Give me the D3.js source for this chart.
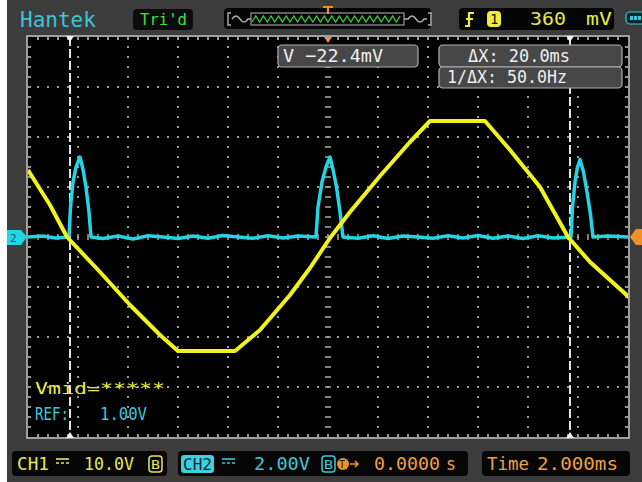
<!DOCTYPE html>
<html>
<head>
<meta charset="utf-8">
<script src="https://cdn.jsdelivr.net/npm/d3@7"></script>
<style>
  body { margin: 0; background: #fff; }
  svg { display: block; }
  text { font-family: "DejaVu Sans Mono", monospace; }
</style>
</head>
<body>
<div id="scope"></div>
<script>
// CH1 trace (yellow): time in ms, volts
var ch1Times = [-12, -11.12, -10.44, -9.12, -7.92, -6.72, -6.0, -3.72, -2.72, -1.52, -0.72, 0.08, 0.88, 2.08, 3.28, 4.08, 6.28, 7.28, 8.48, 9.6, 10.48, 12.08];
var ch1Volts = [13.4, 6.4, 0, -7, -13.6, -19.6, -22.8, -22.8, -18.6, -11.6, -6.2, -0.2, 5, 12.2, 19, 23.2, 23.2, 17.4, 10, 0, -5, -12.2];

// CH2 trace (cyan): baseline with three narrow pulses
var ch2Times = [-12, -11.4, -10.9, -10.36, -10.3, -10.2, -10.08, -9.92, -9.8, -9.68, -9.56, -9.48, -9.0, -8.4, -7.8, -7.2, -6.6, -6.0, -5.4, -4.8, -4.2, -3.6, -3.0, -2.4, -1.8, -1.2, -0.48, -0.4, -0.24, -0.08, 0.08, 0.2, 0.34, 0.48, 0.6, 1.2, 1.8, 2.4, 3.0, 3.6, 4.2, 4.8, 5.4, 6.0, 6.6, 7.2, 7.8, 8.4, 9.0, 9.72, 9.78, 9.88, 9.98, 10.08, 10.22, 10.36, 10.5, 10.6, 11.2, 12];
var ch2Volts = [0, 0.04, -0.04, 0, 1.2, 2.2, 2.8, 3.2, 2.7, 2.0, 1.0, 0, -0.06, 0.04, -0.08, 0.05, 0, -0.06, 0.04, -0.05, 0.06, 0, -0.05, 0.05, -0.04, 0.04, 0, 1.2, 2.2, 2.8, 3.2, 2.7, 2.0, 1.0, 0, -0.05, 0.05, -0.06, 0.04, 0, -0.05, 0.05, -0.04, 0.06, -0.05, 0.04, -0.06, 0.05, -0.04, 0, 1.2, 2.2, 2.8, 3.1, 2.6, 1.8, 0.9, 0, 0.04, 0];

// Cursor positions (ms) and the division lines of the graticule
var cursorTimes = [-10.32, 9.68];
var timeDivs = [-10, -8, -6, -4, -2, 0, 2, 4, 6, 8, 10];
var ch1Divs = [-30, -20, -10, 0, 10, 20, 30];

var width = 642, height = 482;
var gLeft = 28, gRight = 628, gTop = 37, gBottom = 437;

// Scales: 2 ms/div across 12 divisions, CH1 10 V/div, CH2 2 V/div
var x = d3.scaleLinear().domain([-12, 12]).range([gLeft, gRight]);
var y1 = d3.scaleLinear().domain([-40, 40]).range([gBottom, gTop]);
var y2 = d3.scaleLinear().domain([-8, 8]).range([gBottom, gTop]);

var svg = d3.select("#scope").append("svg")
  .attr("width", width)
  .attr("height", height);

// Grey bezel (a thin white margin stays on the left)
svg.append("rect").attr("x", 7).attr("y", 0).attr("width", width - 7).attr("height", height).attr("fill", "#3c3c3c");

// Graticule
svg.append("rect")
  .attr("x", gLeft).attr("y", gTop)
  .attr("width", gRight - gLeft).attr("height", gBottom - gTop)
  .attr("fill", "#000");

var grid = svg.append("g");
var minorT = d3.range(-12, 12.01, 0.4);
var minorV = d3.range(-40, 40.01, 2);

// Dotted division lines
timeDivs.filter(d => d != 0).forEach(function (t) {
  grid.selectAll(null).data(minorV.slice(1, -1)).enter().append("rect")
    .attr("x", x(t) - 1).attr("y", d => y1(d) - 1)
    .attr("width", 2).attr("height", 2)
    .attr("fill", "#9a9a9a");
});
ch1Divs.filter(d => d != 0).forEach(function (v) {
  grid.selectAll(null).data(minorT.slice(1, -1)).enter().append("rect")
    .attr("x", d => x(d) - 1).attr("y", y1(v) - 1)
    .attr("width", 2).attr("height", 2)
    .attr("fill", "#9a9a9a");
});

// Centre axes with small dashes
grid.selectAll(null).data(minorV.slice(1, -1)).enter().append("line")
  .attr("x1", x(0) - 3).attr("x2", x(0) + 3)
  .attr("y1", d => y1(d)).attr("y2", d => y1(d))
  .attr("stroke", "#a8a8a8").attr("stroke-width", 1.5);
grid.selectAll(null).data(minorT.slice(1, -1)).enter().append("line")
  .attr("x1", d => x(d)).attr("x2", d => x(d))
  .attr("y1", y1(0) - 3).attr("y2", y1(0) + 3)
  .attr("stroke", "#a8a8a8").attr("stroke-width", 1.5);

// Border ticks
grid.selectAll(null).data(minorT.slice(1, -1)).enter().append("line")
  .attr("x1", d => x(d)).attr("x2", d => x(d))
  .attr("y1", gTop).attr("y2", gTop + 3)
  .attr("stroke", "#c8c8c8").attr("stroke-width", 1.5);
grid.selectAll(null).data(minorT.slice(1, -1)).enter().append("line")
  .attr("x1", d => x(d)).attr("x2", d => x(d))
  .attr("y1", gBottom).attr("y2", gBottom - 3)
  .attr("stroke", "#c8c8c8").attr("stroke-width", 1.5);
grid.selectAll(null).data(minorV.slice(1, -1)).enter().append("line")
  .attr("x1", gLeft).attr("x2", gLeft + 3)
  .attr("y1", d => y1(d)).attr("y2", d => y1(d))
  .attr("stroke", "#c8c8c8").attr("stroke-width", 1.5);
grid.selectAll(null).data(minorV.slice(1, -1)).enter().append("line")
  .attr("x1", gRight).attr("x2", gRight - 3)
  .attr("y1", d => y1(d)).attr("y2", d => y1(d))
  .attr("stroke", "#c8c8c8").attr("stroke-width", 1.5);

svg.append("rect")
  .attr("x", gLeft - 1).attr("y", gTop - 1)
  .attr("width", gRight - gLeft + 2).attr("height", gBottom - gTop + 2)
  .attr("fill", "none").attr("stroke", "#b8b8b8").attr("stroke-width", 1.6);

// Cursor lines
svg.selectAll(".cursor").data(cursorTimes).enter().append("line")
  .attr("class", "cursor")
  .attr("x1", d => x(d)).attr("x2", d => x(d))
  .attr("y1", gTop).attr("y2", gBottom)
  .attr("stroke", "#e0e0e0").attr("stroke-width", 2)
  .attr("stroke-dasharray", "9,3");

// Cursor / trigger markers on the ruler
function marker(xp, yp, dir, color) {
  svg.append("path")
    .attr("d", `M${xp - 4},${yp} L${xp + 4},${yp} L${xp},${yp + dir * 6} Z`)
    .attr("fill", color);
}
cursorTimes.forEach(t => { marker(x(t), gTop - 1, 1, "#f0f0f0"); marker(x(t), gBottom + 1, -1, "#f0f0f0"); });
marker(x(0), gTop, 1, "#f0902a");

// Clip traces to the graticule
svg.append("clipPath").attr("id", "screen")
  .append("rect").attr("x", gLeft).attr("y", gTop)
  .attr("width", gRight - gLeft).attr("height", gBottom - gTop);

var line1 = d3.line().x((d, i) => x(ch1Times[i])).y(d => y1(d));
var line2 = d3.line().x((d, i) => x(ch2Times[i])).y(d => y2(d));

svg.append("path")
  .datum(ch2Volts)
  .attr("clip-path", "url(#screen)")
  .attr("fill", "none")
  .attr("stroke", "#22d4e4")
  .attr("stroke-width", 3.5)
  .attr("stroke-linejoin", "round")
  .attr("d", line2);

svg.append("path")
  .datum(ch1Volts)
  .attr("clip-path", "url(#screen)")
  .attr("fill", "none")
  .attr("stroke", "#f2f21c")
  .attr("stroke-width", 4)
  .attr("stroke-linejoin", "round")
  .attr("d", line1);

// Channel markers at the sides
svg.append("path")
  .attr("d", "M7,230 L21,230 L27,237 L21,245 L7,245 Z")
  .attr("fill", "#22d4e4");
svg.append("text").attr("x", 10).attr("y", 242).attr("font-size", 11)
  .attr("fill", "#0b5a66").text("2");
svg.append("path")
  .attr("d", "M642,229 L636,229 L630,237 L636,245 L642,245 Z")
  .attr("fill", "#f0902a");

// Helper for text with a fixed width
function label(xp, yp, str, color, size, len) {
  var t = svg.append("text")
    .attr("x", xp).attr("y", yp)
    .attr("font-size", size)
    .attr("fill", color)
    .text(str);
  if (len) t.attr("textLength", len).attr("lengthAdjust", "spacingAndGlyphs");
  return t;
}
function box(x0, y0, w, h, fill, stroke) {
  svg.append("rect")
    .attr("x", x0).attr("y", y0).attr("width", w).attr("height", h)
    .attr("rx", 4).attr("fill", fill)
    .attr("stroke", stroke || "none").attr("stroke-width", 1.2);
}

// Measurement boxes
box(278, 45, 140, 22, "#474747", "#b0b0b0");
label(283, 62, "V\u2009\u221222.4mV", "#f0f0f0", 18, 100);
box(439, 45, 183, 22, "#474747", "#b0b0b0");
label(468, 62, "\u0394X:\u200920.0ms", "#f0f0f0", 17, 102);
box(439, 67, 183, 21, "#474747", "#b0b0b0");
label(447, 83, "1/\u0394X:\u200950.0Hz", "#f0f0f0", 17, 120);

// On-screen readouts
label(35, 394, "Vmid=*****", "#e8e84a", 16, 130);
label(35, 420, "REF:", "#3cc8dc", 17, 34);
label(100, 420, "1.00V", "#3cc8dc", 17, 47);

// Top bar
svg.append("text").attr("x", 20).attr("y", 27)
  .attr("font-family", "Liberation Sans, Arial, sans-serif")
  .attr("font-size", 21).attr("fill", "#3cc4d4")
  .text("Hantek");

box(133, 9, 60, 21, "#0c0c0c");
label(140, 25, "Tri'd", "#3ee03e", 16, 47);

// Memory bar
box(224, 8, 207, 21, "#050505");
var zig = d3.range(0, 40).map(i => [252 + i * 3.8, i % 2 ? 16 : 22]);
svg.append("rect").attr("x", 251).attr("y", 13).attr("width", 153).attr("height", 12)
  .attr("fill", "none").attr("stroke", "#9a9a9a").attr("stroke-width", 1.2);
svg.append("path").attr("d", d3.line()(zig)).attr("fill", "none")
  .attr("stroke", "#38c838").attr("stroke-width", 1.4);
svg.append("path")
  .attr("d", "M231,13 L228,13 L228,25 L231,25 M232,19 Q236,13 240,19 Q244,25 248,19 L251,19 M404,19 L408,19 Q412,13 416,19 Q420,25 424,19 L427,19 M428,13 L431,13 L431,25 L428,25")
  .attr("fill", "none").attr("stroke", "#b0b0b0").attr("stroke-width", 1.4);
svg.append("path").attr("d", "M323,7 L333,7 M328,7 L328,14")
  .attr("stroke", "#f0902a").attr("stroke-width", 2.2);

// Trigger readout
box(459, 8, 155, 22, "#050505");
svg.append("path").attr("d", "M465,26 L469,26 L469,13 L474,13 M466,19 L473,19")
  .attr("fill", "none").attr("stroke", "#eeee3a").attr("stroke-width", 2.2);
svg.append("rect").attr("x", 487).attr("y", 11).attr("width", 14).attr("height", 16)
  .attr("rx", 4).attr("fill", "#eeee3a");
label(490, 24, "1", "#111", 14);
label(530, 25, "360", "#e8e84a", 17, 36);
label(586, 25, "mV", "#e8e84a", 17, 26);

// Little cyan icon at the right edge
box(626, 12, 20, 12, "#0a2a30", "#3cc8dc");
svg.selectAll(".pip").data([630, 634, 638]).enter().append("rect")
  .attr("x", d => d).attr("y", 16).attr("width", 3).attr("height", 4).attr("fill", "#3cc8dc");

// Bottom bar
function dcMark(xp, yp, color) {
  svg.append("line").attr("x1", xp).attr("x2", xp + 13).attr("y1", yp).attr("y2", yp)
    .attr("stroke", color).attr("stroke-width", 1.6);
  svg.append("line").attr("x1", xp).attr("x2", xp + 13).attr("y1", yp + 4).attr("y2", yp + 4)
    .attr("stroke", color).attr("stroke-width", 1.6).attr("stroke-dasharray", "3,2");
}
box(12, 451, 155, 25, "#060606");
label(17, 470, "CH1", "#e6e65a", 17, 32);
dcMark(56, 459, "#e6e65a");
label(84, 470, "10.0V", "#e6e65a", 17, 50);
svg.append("rect").attr("x", 149).attr("y", 456).attr("width", 13).attr("height", 16)
  .attr("rx", 3).attr("fill", "none").attr("stroke", "#e6e65a").attr("stroke-width", 1.5);
label(151, 469, "B", "#e6e65a", 13, 9);

box(178, 451, 290, 25, "#060606");
svg.append("rect").attr("x", 181).attr("y", 455).attr("width", 33).attr("height", 18)
  .attr("rx", 3).attr("fill", "#3cd0e0");
label(183, 470, "CH2", "#0a2a30", 16, 29);
dcMark(222, 459, "#3cc8dc");
label(254, 470, "2.00V", "#3cc8dc", 17, 56);
svg.append("rect").attr("x", 322).attr("y", 456).attr("width", 13).attr("height", 16)
  .attr("rx", 3).attr("fill", "none").attr("stroke", "#3cc8dc").attr("stroke-width", 1.5);
label(324, 469, "B", "#3cc8dc", 13, 9);
svg.append("circle").attr("cx", 343).attr("cy", 464).attr("r", 6).attr("fill", "#f0902a");
label(339, 468, "T", "#222", 10);
svg.append("path").attr("d", "M350,464 L358,464 M355,461 L358,464 L355,467")
  .attr("fill", "none").attr("stroke", "#f0902a").attr("stroke-width", 1.6);
label(374, 470, "0.0000", "#f0a044", 17, 66);
label(446, 470, "s", "#f0a044", 17, 10);

box(482, 451, 148, 25, "#060606");
label(487, 470, "Time", "#f0a044", 17, 42);
label(537, 470, "2.000ms", "#f0a044", 17, 81);
</script>
</body>
</html>
